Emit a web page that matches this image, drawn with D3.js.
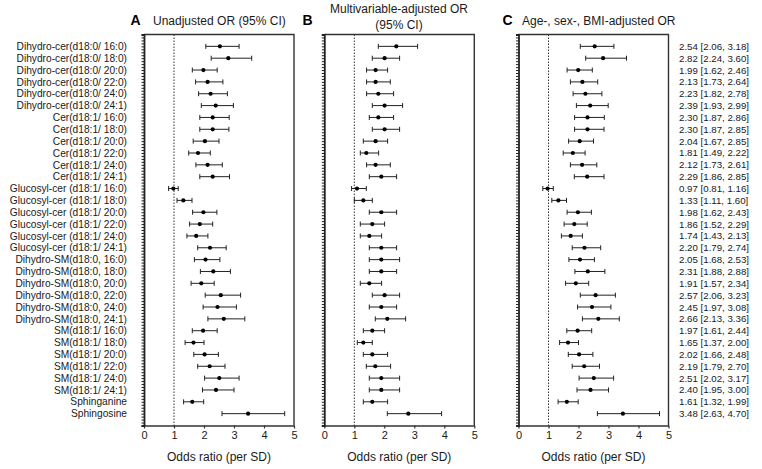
<!DOCTYPE html>
<html>
<head>
<meta charset="utf-8">
<script src="https://cdn.jsdelivr.net/npm/d3@7"></script>
<style>
  body { margin: 0; background: #fff; }
  svg { font-family: "Liberation Sans", Arial, sans-serif; }
</style>
</head>
<body>
<script>
const lipids = [
  "Dihydro-cer(d18:0/ 16:0)", "Dihydro-cer(d18:0/ 18:0)", "Dihydro-cer(d18:0/ 20:0)",
  "Dihydro-cer(d18:0/ 22:0)", "Dihydro-cer(d18:0/ 24:0)", "Dihydro-cer(d18:0/ 24:1)",
  "Cer(d18:1/ 16:0)", "Cer(d18:1/ 18:0)", "Cer(d18:1/ 20:0)",
  "Cer(d18:1/ 22:0)", "Cer(d18:1/ 24:0)", "Cer(d18:1/ 24:1)",
  "Glucosyl-cer (d18:1/ 16:0)", "Glucosyl-cer (d18:1/ 18:0)", "Glucosyl-cer (d18:1/ 20:0)",
  "Glucosyl-cer (d18:1/ 22:0)", "Glucosyl-cer (d18:1/ 24:0)", "Glucosyl-cer (d18:1/ 24:1)",
  "Dihydro-SM(d18:0, 16:0)", "Dihydro-SM(d18:0, 18:0)", "Dihydro-SM(d18:0, 20:0)",
  "Dihydro-SM(d18:0, 22:0)", "Dihydro-SM(d18:0, 24:0)", "Dihydro-SM(d18:0, 24:1)",
  "SM(d18:1/ 16:0)", "SM(d18:1/ 18:0)", "SM(d18:1/ 20:0)",
  "SM(d18:1/ 22:0)", "SM(d18:1/ 24:0)", "SM(d18:1/ 24:1)",
  "Sphinganine", "Sphingosine"
];

// A: unadjusted
const aOR = [2.53, 2.81, 1.98, 2.12, 2.22, 2.39, 2.29, 2.29, 2.03, 1.80, 2.12, 2.29,
             0.98, 1.31, 1.98, 1.86, 1.74, 2.20, 2.05, 2.31, 1.91, 2.56, 2.45, 2.66,
             1.97, 1.65, 2.02, 2.19, 2.51, 2.40, 1.61, 3.47];
const aLo = [2.06, 2.24, 1.61, 1.72, 1.82, 1.91, 1.86, 1.86, 1.64, 1.49, 1.73, 1.86,
             0.82, 1.10, 1.62, 1.52, 1.43, 1.79, 1.68, 1.88, 1.57, 2.04, 1.97, 2.13,
             1.61, 1.37, 1.66, 1.79, 2.02, 1.95, 1.32, 2.60];
const aHi = [3.17, 3.59, 2.44, 2.63, 2.78, 2.98, 2.84, 2.83, 2.50, 2.21, 2.61, 2.85,
             1.14, 1.60, 2.43, 2.29, 2.13, 2.74, 2.53, 2.88, 2.34, 3.22, 3.08, 3.36,
             2.44, 2.00, 2.48, 2.70, 3.17, 3.00, 1.99, 4.69];

// B: multivariable-adjusted
const bOR = [2.40, 2.01, 1.71, 1.71, 1.80, 2.01, 1.80, 2.01, 1.71, 1.40, 1.71, 1.90,
             1.09, 1.30, 1.90, 1.60, 1.50, 1.90, 1.90, 1.90, 1.50, 2.01, 1.90, 2.10,
             1.60, 1.30, 1.60, 1.70, 1.90, 1.90, 1.60, 2.80];
const bLo = [1.80, 1.60, 1.41, 1.41, 1.41, 1.60, 1.50, 1.60, 1.30, 1.20, 1.41, 1.50,
             0.91, 1.00, 1.50, 1.20, 1.20, 1.50, 1.50, 1.50, 1.20, 1.60, 1.50, 1.70,
             1.30, 1.10, 1.30, 1.40, 1.50, 1.50, 1.30, 2.10];
const bHi = [3.11, 2.51, 2.11, 2.20, 2.31, 2.61, 2.31, 2.51, 2.11, 1.81, 2.20, 2.41,
             1.40, 1.60, 2.41, 2.01, 1.91, 2.41, 2.51, 2.41, 1.91, 2.51, 2.41, 2.71,
             2.01, 1.60, 2.11, 2.21, 2.51, 2.51, 2.11, 3.91];

// C: age-, sex-, BMI-adjusted
const cOR = [2.54, 2.82, 1.99, 2.13, 2.23, 2.39, 2.30, 2.30, 2.04, 1.81, 2.12, 2.29,
             0.97, 1.33, 1.98, 1.86, 1.74, 2.20, 2.05, 2.31, 1.91, 2.57, 2.45, 2.66,
             1.97, 1.65, 2.02, 2.19, 2.51, 2.40, 1.61, 3.48];
const cLo = [2.06, 2.24, 1.62, 1.73, 1.82, 1.93, 1.87, 1.87, 1.67, 1.49, 1.73, 1.86,
             0.81, 1.11, 1.62, 1.52, 1.43, 1.79, 1.68, 1.88, 1.57, 2.06, 1.97, 2.13,
             1.61, 1.37, 1.66, 1.79, 2.02, 1.95, 1.32, 2.63];
const cHi = [3.18, 3.60, 2.46, 2.64, 2.78, 2.99, 2.86, 2.85, 2.50, 2.22, 2.61, 2.85,
             1.16, 1.60, 2.43, 2.29, 2.13, 2.74, 2.53, 2.88, 2.34, 3.23, 3.08, 3.36,
             2.44, 2.00, 2.48, 2.70, 3.17, 3.00, 1.99, 4.70];
const cText = [
  "2.54 [2.06, 3.18]", "2.82 [2.24, 3.60]", "1.99 [1.62, 2.46]", "2.13 [1.73, 2.64]",
  "2.23 [1.82, 2.78]", "2.39 [1.93, 2.99]", "2.30 [1.87, 2.86]", "2.30 [1.87, 2.85]",
  "2.04 [1.67, 2.85]", "1.81 [1.49, 2.22]", "2.12 [1.73, 2.61]", "2.29 [1.86, 2.85]",
  "0.97 [0.81, 1.16]", "1.33 [1.11, 1.60]", "1.98 [1.62, 2.43]", "1.86 [1.52, 2.29]",
  "1.74 [1.43, 2.13]", "2.20 [1.79, 2.74]", "2.05 [1.68, 2.53]", "2.31 [1.88, 2.88]",
  "1.91 [1.57, 2.34]", "2.57 [2.06, 3.23]", "2.45 [1.97, 3.08]", "2.66 [2.13, 3.36]",
  "1.97 [1.61, 2.44]", "1.65 [1.37, 2.00]", "2.02 [1.66, 2.48]", "2.19 [1.79, 2.70]",
  "2.51 [2.02, 3.17]", "2.40 [1.95, 3.00]", "1.61 [1.32, 1.99]", "3.48 [2.63, 4.70]"
];

const xTicks = [0, 1, 2, 3, 4, 5];

const w = 762, h = 469;
const plotTop = 34.5, plotBottom = 425.5;
const ink = "#1a1a1a";

const svg = d3.select("body").append("svg")
  .attr("width", w).attr("height", h);

const y = d3.scalePoint().domain(lipids).range([plotTop, plotBottom]).padding(1);

// row labels
svg.append("g").selectAll("text")
  .data(lipids).enter().append("text")
  .attr("x", 127)
  .attr("y", d => y(d))
  .attr("dy", "0.36em")
  .attr("text-anchor", "end")
  .attr("font-size", 10.2)
  .attr("fill", ink)
  .text(d => d);

const panels = [
  { x0: 144, x1: 294, or: aOR, lo: aLo, hi: aHi },
  { x0: 324.3, x1: 474.3, or: bOR, lo: bLo, hi: bHi },
  { x0: 518.5, x1: 668.5, or: cOR, lo: cLo, hi: cHi }
];

panels.forEach(p => {
  const x = d3.scaleLinear().domain([0, 5]).range([p.x0, p.x1]);
  const g = svg.append("g");

  // top and right frame
  g.append("path")
    .attr("d", `M${p.x0},${plotTop}H${p.x1}V${plotBottom}`)
    .attr("fill", "none").attr("stroke", "#333").attr("stroke-width", 1.4);

  // bottom axis
  const xa = g.append("g")
    .attr("transform", `translate(0,${plotBottom})`)
    .call(d3.axisBottom(x).tickValues(xTicks).tickFormat(d3.format("d"))
      .tickSize(3).tickPadding(3).tickSizeOuter(0));
  xa.select(".domain").attr("stroke", "#333").attr("stroke-width", 1.4);
  xa.selectAll(".tick line").attr("stroke", "#333").attr("stroke-width", 1.2);
  xa.selectAll("text").attr("font-size", 11).attr("fill", ink)
    .attr("font-family", "Liberation Sans, Arial, sans-serif");

  // left axis with dense minor ticks
  const yMinor = d3.scaleLinear().domain([0, 132]).range([plotTop, plotBottom]);
  const ya = g.append("g")
    .attr("transform", `translate(${p.x0},0)`)
    .call(d3.axisLeft(yMinor).tickValues(d3.range(0, 133)).tickSize(2.5).tickFormat(""));
  ya.select(".domain").attr("stroke", "#222").attr("stroke-width", 1.8);
  ya.selectAll(".tick line").attr("stroke", "#222").attr("stroke-width", 1);

  // reference line at OR = 1
  g.append("line")
    .attr("x1", x(1)).attr("x2", x(1))
    .attr("y1", plotTop).attr("y2", plotBottom)
    .attr("stroke", "#333").attr("stroke-width", 1)
    .attr("stroke-dasharray", "1.5,1.5");

  // error bars
  const rows = g.selectAll(".row")
    .data(lipids).enter().append("g");

  rows.append("line")
    .attr("x1", (d, i) => x(p.lo[i])).attr("x2", (d, i) => x(p.hi[i]))
    .attr("y1", d => y(d)).attr("y2", d => y(d))
    .attr("stroke", "#222").attr("stroke-width", 1);
  rows.append("line")
    .attr("x1", (d, i) => x(p.lo[i])).attr("x2", (d, i) => x(p.lo[i]))
    .attr("y1", d => y(d) - 2.5).attr("y2", d => y(d) + 2.5)
    .attr("stroke", "#222").attr("stroke-width", 1);
  rows.append("line")
    .attr("x1", (d, i) => x(p.hi[i])).attr("x2", (d, i) => x(p.hi[i]))
    .attr("y1", d => y(d) - 2.5).attr("y2", d => y(d) + 2.5)
    .attr("stroke", "#222").attr("stroke-width", 1);
  rows.append("circle")
    .attr("cx", (d, i) => x(p.or[i]))
    .attr("cy", d => y(d))
    .attr("r", 2.1)
    .attr("fill", "#000");

  // axis title
  g.append("text")
    .attr("x", (p.x0 + p.x1) / 2).attr("y", 461)
    .attr("text-anchor", "middle")
    .attr("font-size", 12).attr("fill", ink)
    .text("Odds ratio (per SD)");
});

// panel titles
const letter = (t, x) => svg.append("text")
  .attr("x", x).attr("y", 25)
  .attr("font-size", 14).attr("font-weight", "bold").attr("fill", "#000")
  .text(t);

letter("A", 130.5);
svg.append("text").attr("x", 153).attr("y", 25)
  .attr("font-size", 12).attr("fill", ink).text("Unadjusted OR (95% CI)");

letter("B", 302.5);
svg.append("text").attr("x", 399).attr("y", 13)
  .attr("text-anchor", "middle")
  .attr("font-size", 12).attr("fill", ink).text("Multivariable-adjusted OR");
svg.append("text").attr("x", 399).attr("y", 29)
  .attr("text-anchor", "middle")
  .attr("font-size", 12).attr("fill", ink).text("(95% CI)");

letter("C", 502.5);
svg.append("text").attr("x", 522).attr("y", 25)
  .attr("font-size", 12).attr("fill", ink).text("Age-, sex-, BMI-adjusted OR");

// OR [95% CI] column for panel C
svg.append("g").selectAll("text")
  .data(cText).enter().append("text")
  .attr("x", 679)
  .attr("y", (d, i) => y(lipids[i]))
  .attr("dy", "0.36em")
  .attr("font-size", 9.7)
  .attr("fill", ink)
  .text(d => d);
</script>
</body>
</html>
